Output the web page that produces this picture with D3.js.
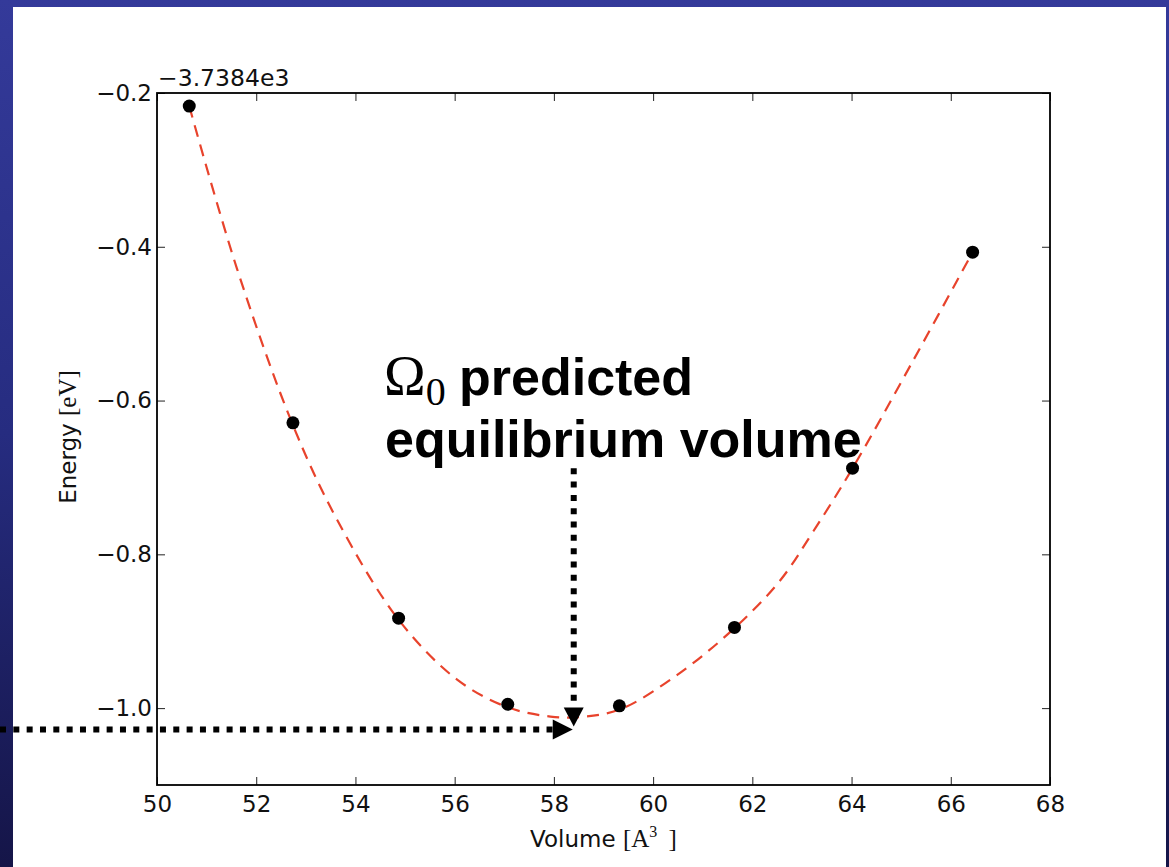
<!DOCTYPE html>
<html>
<head>
<meta charset="utf-8">
<script src="https://cdn.jsdelivr.net/npm/d3@7"></script>
<style>
  html, body { margin: 0; padding: 0; }
  body {
    width: 1169px; height: 867px; overflow: hidden;
    background: linear-gradient(to bottom, #343a9a 0%, #262c80 50%, #151548 100%);
  }
  svg { display: block; }
  .tick text { font-family: "DejaVu Sans", sans-serif; font-size: 23px; fill: #111; }
</style>
</head>
<body>
<div id="chart"></div>
<script>
// measured energies (offset from -3.7384e3 eV) against cell volume
const volumes  = [50.65, 52.74, 54.87, 57.07, 59.32, 61.64, 64.02, 66.44];
const energies = [-0.217, -0.629, -0.883, -0.995, -0.997, -0.895, -0.688, -0.407];

// fitted equation-of-state curve
const fitVolumes  = [50.65, 51.61, 52.74, 53.63, 54.87, 56.05, 57.07, 57.93, 58.45, 59.32, 60.48, 61.64, 62.56, 63.23, 64.02, 65.25, 66.44];
const fitEnergies = [-0.217, -0.428, -0.632, -0.755, -0.885, -0.963, -0.999, -1.011, -1.012, -1.002, -0.957, -0.896, -0.834, -0.770, -0.688, -0.547, -0.407];

const xTicks = [50, 52, 54, 56, 58, 60, 62, 64, 66, 68];
const yTicks = [-0.2, -0.4, -0.6, -0.8, -1.0];
const offsetLabel = '\u22123.7384e3';

// predicted equilibrium volume annotation
const eqVolume = 58.4;
const eqEnergy = -1.024;

const width = 1169, height = 867;
const margin = { top: 93, right: 119, bottom: 82, left: 157 };
const chartWidth = width - margin.left - margin.right;
const chartHeight = height - margin.top - margin.bottom;

const svg = d3.select('#chart')
    .append('svg')
    .attr('width', width)
    .attr('height', height);

// white slide panel
svg.append('rect')
    .attr('x', 13).attr('y', 7)
    .attr('width', 1153).attr('height', 860)
    .attr('fill', '#fff');

const g = svg.append('g')
    .attr('transform', `translate(${margin.left},${margin.top})`);

const xScale = d3.scaleLinear().domain([50, 68]).range([0, chartWidth]);
const yScale = d3.scaleLinear().domain([-1.1, -0.2]).range([chartHeight, 0]);

// axes, ticks pointing inward on all four sides
const styleAxis = sel => {
    sel.select('.domain').remove();
    sel.selectAll('.tick line').attr('stroke', '#222').attr('stroke-width', 1);
};

g.append('g')
    .attr('transform', `translate(0,${chartHeight})`)
    .call(d3.axisBottom(xScale).tickValues(xTicks).tickSize(-8).tickPadding(11).tickFormat(d3.format('d')))
    .call(styleAxis);

g.append('g')
    .call(d3.axisTop(xScale).tickValues(xTicks).tickSize(-8).tickFormat(''))
    .call(styleAxis);

g.append('g')
    .call(d3.axisLeft(yScale).tickValues(yTicks).tickSize(-8).tickPadding(5).tickFormat(d3.format('.1f')))
    .call(styleAxis);

g.append('g')
    .attr('transform', `translate(${chartWidth},0)`)
    .call(d3.axisRight(yScale).tickValues(yTicks).tickSize(-8).tickFormat(''))
    .call(styleAxis);

g.append('rect')
    .attr('width', chartWidth)
    .attr('height', chartHeight)
    .attr('fill', 'none')
    .attr('stroke', '#000')
    .attr('stroke-width', 1.8);

// offset text above the y axis
g.append('text')
    .attr('x', 1)
    .attr('y', -7)
    .style('font-family', '"DejaVu Sans", sans-serif')
    .style('font-size', '23.5px')
    .attr('fill', '#111')
    .text(offsetLabel);

// axis labels
const xLabel = svg.append('text')
    .attr('x', margin.left + chartWidth / 2)
    .attr('y', 847)
    .attr('text-anchor', 'middle')
    .attr('fill', '#111')
    .style('font-size', '23px');
xLabel.append('tspan').style('font-family', '"DejaVu Sans", sans-serif').text('Volume ');
xLabel.append('tspan').style('font-family', '"Liberation Serif", serif').style('font-size', '25px').text('[A');
xLabel.append('tspan').style('font-family', '"Liberation Serif", serif').style('font-size', '16px').attr('dy', -10).text('3');
xLabel.append('tspan').style('font-family', '"Liberation Serif", serif').style('font-size', '25px').attr('dy', 10).text('\u2009 ]');

const yLabel = svg.append('text')
    .attr('transform', 'translate(76,437) rotate(-90)')
    .attr('text-anchor', 'middle')
    .attr('fill', '#111')
    .style('font-size', '23px');
yLabel.append('tspan').style('font-family', '"DejaVu Sans", sans-serif').text('Energy ');
yLabel.append('tspan').style('font-family', '"Liberation Serif", serif').style('font-size', '25px').text('[eV]');

// fitted curve
const fitData = fitVolumes.map((v, i) => ({ v, e: fitEnergies[i] }));
g.append('path')
    .datum(fitData)
    .attr('fill', 'none')
    .attr('stroke', '#e8432c')
    .attr('stroke-width', 2.2)
    .attr('stroke-dasharray', '12,8')
    .attr('d', d3.line()
        .x(d => xScale(d.v))
        .y(d => yScale(d.e))
        .curve(d3.curveCatmullRom));

// measured points
const pointData = volumes.map((v, i) => ({ v, e: energies[i] }));
g.selectAll('.dot')
    .data(pointData)
    .join('circle')
    .attr('class', 'dot')
    .attr('cx', d => xScale(d.v))
    .attr('cy', d => yScale(d.e))
    .attr('r', 6.5)
    .attr('fill', '#000');

// annotation text
const note = svg.append('g').attr('fill', '#000');
const line1 = note.append('text').attr('x', 384).attr('y', 395);
line1.append('tspan')
    .style('font-family', '"Liberation Serif", serif')
    .style('font-size', '56px')
    .text('\u03A9');
line1.append('tspan')
    .style('font-family', '"Liberation Serif", serif')
    .style('font-size', '40px')
    .attr('dy', 10)
    .text('0');
line1.append('tspan')
    .attr('x', 459)
    .attr('dy', -10)
    .style('font-family', '"Liberation Sans", Arial, sans-serif')
    .style('font-weight', 'bold')
    .style('font-size', '52px')
    .text('predicted');
note.append('text')
    .attr('x', 385).attr('y', 457)
    .style('font-family', '"Liberation Sans", Arial, sans-serif')
    .style('font-weight', 'bold')
    .style('font-size', '52px')
    .text('equilibrium volume');

// dotted arrows pointing at the minimum
const arrowX = margin.left + xScale(eqVolume);
const arrowY = margin.top + yScale(eqEnergy);

svg.append('line')
    .attr('x1', arrowX).attr('x2', arrowX)
    .attr('y1', margin.top + yScale(-0.688)).attr('y2', arrowY - 19)
    .attr('stroke', '#000')
    .attr('stroke-width', 6)
    .attr('stroke-dasharray', '6,7.33');
svg.append('path')
    .attr('d', `M${arrowX - 10},${arrowY - 19} L${arrowX + 10},${arrowY - 19} L${arrowX},${arrowY} Z`)
    .attr('fill', '#000');

const hY = arrowY + 3;
const hX = arrowX - 1;
svg.append('line')
    .attr('x1', 0).attr('x2', hX - 20)
    .attr('y1', hY).attr('y2', hY)
    .attr('stroke', '#000')
    .attr('stroke-width', 6)
    .attr('stroke-dasharray', '6,7.33');
svg.append('path')
    .attr('d', `M${hX - 20},${hY - 10} L${hX - 20},${hY + 10} L${hX},${hY} Z`)
    .attr('fill', '#000');
</script>
</body>
</html>
